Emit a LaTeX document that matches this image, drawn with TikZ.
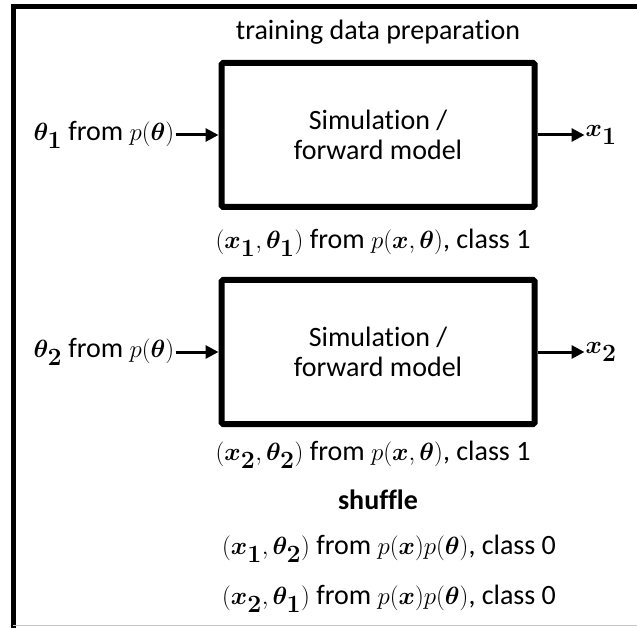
\documentclass[tikz,border=0pt]{standalone}
\usepackage{amsmath,bm}
\usepackage[no-math]{fontspec}
\setmainfont[Ligatures=NoCommon]{Carlito}
\DeclareMathSizes{28}{31}{23}{18}
\usetikzlibrary{arrows.meta}
\usetikzlibrary{positioning}
\tikzset{
    simbox/.style={
        draw,
        line width=6pt,
        rounded corners=1.5pt,
        minimum width=313pt,
        minimum height=144pt,
        align=center,
        font=\fontsize{28}{30}\selectfont
    },
    feed/.style={
        -{Triangle[length=13pt, width=13pt]},
        line width=3pt
    }
}

\begin{document}
\begin{tikzpicture}[x=1pt, y=-1pt,
    every node/.style={inner sep=1pt, font=\fontsize{28}{33}\selectfont}]
    \useasboundingbox (0,0) rectangle (637,628);
    % Frame
    \draw[line width=5pt] (13,628) -- (13,7) -- (637,7);
    \draw[black!22, line width=1pt] (13,625) -- (637,625);

    % Title
    \node (title) at (378,32) {training data preparation};

    % Simulators
    \node[simbox] (sim1) at (378,135) {Simulation /\\forward model};
    \node[simbox] (sim2) at (378,352) {Simulation /\\forward model};

    % Inputs and outputs
    \node[left=43pt of sim1] (in1) {$\bm{\theta_1}$ from $p(\bm{\theta})$};
    \node[left=43pt of sim2] (in2) {$\bm{\theta_2}$ from $p(\bm{\theta})$};
    \node[right=47pt of sim1] (out1) {$\bm{x_1}$};
    \node[right=47pt of sim2] (out2) {$\bm{x_2}$};

    \draw[feed] (in1) -- (sim1);
    \draw[feed] (sim1) -- (out1);
    \draw[feed] (in2) -- (sim2);
    \draw[feed] (sim2) -- (out2);

    % Pairs
    \node (pair1) at (373,243) {$(\bm{x_1},\bm{\theta_1})$ from $p(\bm{x},\bm{\theta})$, class 1};
    \node (pair2) at (373,455) {$(\bm{x_2},\bm{\theta_2})$ from $p(\bm{x},\bm{\theta})$, class 1};
    \node[font=\fontsize{28}{33}\selectfont\bfseries] (shuffle) at (378,500) {shuffle};
    \node (mix1) at (389,549) {$(\bm{x_1},\bm{\theta_2})$ from $p(\bm{x})p(\bm{\theta})$, class 0};
    \node (mix2) at (389,599) {$(\bm{x_2},\bm{\theta_1})$ from $p(\bm{x})p(\bm{\theta})$, class 0};
\end{tikzpicture}
\end{document}
